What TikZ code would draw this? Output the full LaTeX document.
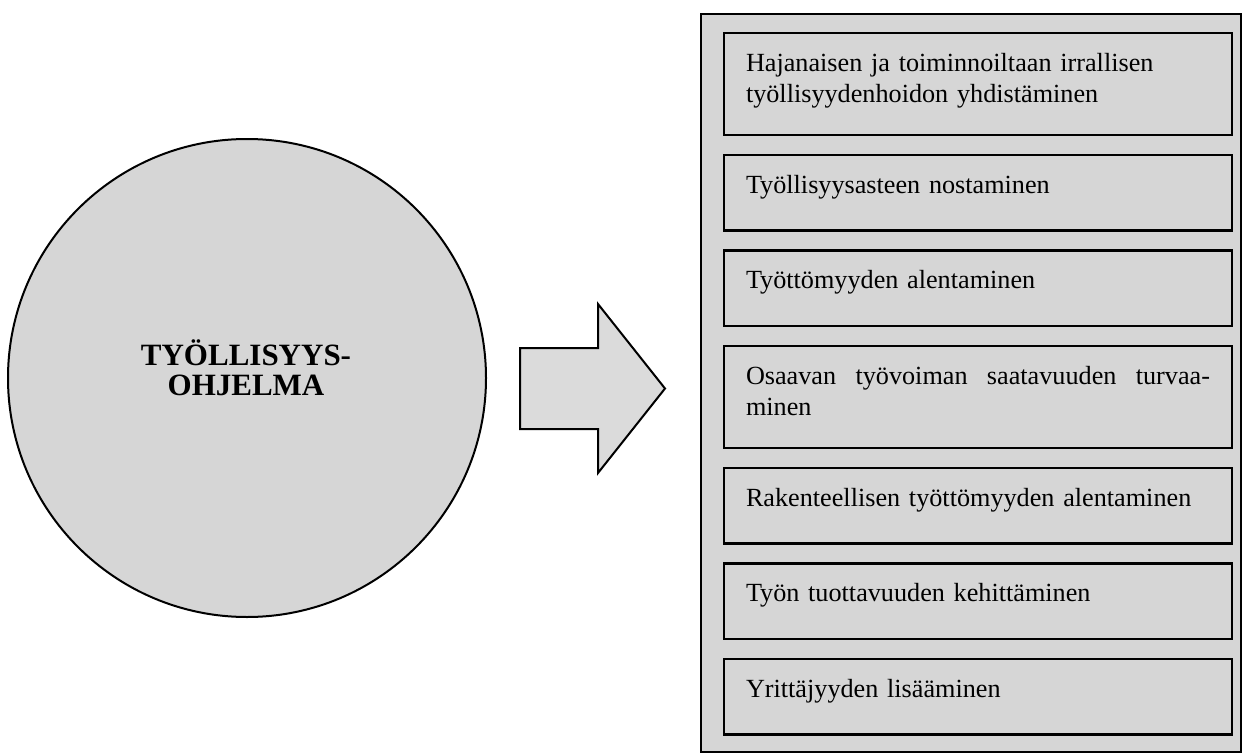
\documentclass[tikz,border=0pt]{standalone}
\usepackage{fontspec}
\setmainfont{Liberation Serif}
\usetikzlibrary{positioning}
\tikzset{hub/.style={circle,draw,line width=1pt,fill=black!16,minimum size=239pt,inner sep=0pt},
  hubtitle/.style={align=center,font=\fontsize{15.5pt}{15pt}\selectfont\bfseries},
  goal/.style={draw,line width=1.2pt,fill=black!16,outer sep=0pt,text width=232pt,inner xsep=11pt,inner ysep=0pt,
    align=left,text height=19pt,text depth=18.75pt,font=\fontsize{13.1pt}{15.5pt}\selectfont},
  goaltwo/.style={goal,text depth=32pt}}

\begin{document}
\begin{tikzpicture}[x=0.5pt,y=-0.5pt]
\useasboundingbox (0,0) rectangle (1244,755);
% frame behind the list of goals
\draw[line width=0.8pt,fill=black!16] (701,14) rectangle (1241,752);
% programme
\node[hub] (hub) at (247,378) {};
\node[hubtitle] (title) at (246,368) {TYÖLLISYYS-\\OHJELMA};
% block arrow
\draw[line width=1pt,fill=black!14] (520,348) -- (598,348) -- (598,304) -- (665,388.5)
  -- (598,473) -- (598,429) -- (520,429) -- cycle;
% goals
\node[goaltwo,anchor=north west] (g1) at (724,33) {Hajanaisen ja toiminnoiltaan irrallisen\\työllisyydenhoidon yhdistäminen};
\node[goal,below=10pt of g1] (g2) {Työllisyysasteen nostaminen};
\node[goal,below=10pt of g2] (g3) {Työttömyyden alentaminen};
\node[goaltwo,align=justify,below=10pt of g3] (g4) {Osaavan työvoiman saatavuuden turvaa-\linebreak minen};
\node[goal,below=10pt of g4] (g5) {Rakenteellisen työttömyyden alentaminen};
\node[goal,below=10pt of g5] (g6) {Työn tuottavuuden kehittäminen};
\node[goal,below=10pt of g6] (g7) {Yrittäjyyden lisääminen};
\end{tikzpicture}
\end{document}
